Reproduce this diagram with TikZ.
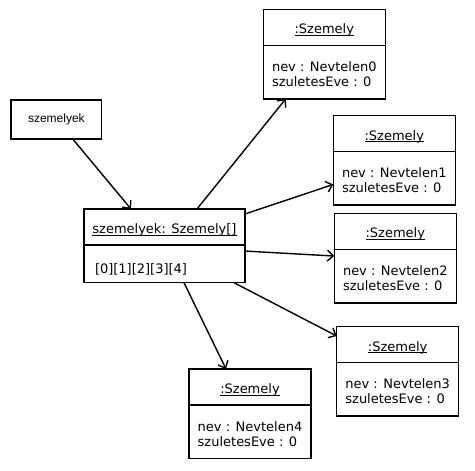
\documentclass[tikz,border=0pt]{standalone}
\usepackage{fontspec}
\setmainfont{DejaVu Sans}
\newfontfamily\reffont{Liberation Sans}
\usetikzlibrary{arrows.meta,positioning}
\newcommand\ulname[1]{\setbox0\hbox{#1}\rlap{\rule[-2pt]{\wd0}{0.9pt}}\box0}

\begin{document}
\begin{tikzpicture}[
  x=1pt,y=-1pt,
  every node/.style={font=\fontsize{13}{15}\selectfont},
  box/.style={draw,line width=1.5pt,outer sep=0pt,inner ysep=0pt},
  titlepart/.style={box,minimum width=122pt,text height=24.5pt,text depth=11.5pt},
  attrpart/.style={box,minimum width=122pt,align=left,text height=41pt,text depth=12.5pt},
  link/.style={-{Straight Barb[length=6pt,width=11pt]},line width=1.4pt}
]
  \useasboundingbox (0,0) rectangle (475,471);

  % reference variable
  \node[draw,line width=1.5pt,minimum width=90.7pt,minimum height=39pt,font=\reffont\fontsize{12}{14}\selectfont] (ref) at (56.35,119.5) {szemelyek};

  % the array object
  \node[titlepart,minimum width=161pt,anchor=north west] (arrT) at (84,209) {\ulname{szemelyek: Szemely[]}};
  \node[box,text width=139pt,inner xsep=11pt,align=left,text height=28.3pt,text depth=9.4pt,below=0pt of arrT] (arrV) {[0][1][2][3][4]};

  % Szemely objects
  \node[titlepart,anchor=north west] (o0t) at (263.3,9.3) {\ulname{:Szemely}};
  \node[attrpart,below=0pt of o0t] (o0a) {nev : Nevtelen0\\szuletesEve : 0};

  \node[titlepart,anchor=north west] (o1t) at (333.3,115.7) {\ulname{:Szemely}};
  \node[attrpart,below=0pt of o1t] (o1a) {nev : Nevtelen1\\szuletesEve : 0};

  \node[titlepart,anchor=north west] (o2t) at (334.3,213.3) {\ulname{:Szemely}};
  \node[attrpart,below=0pt of o2t] (o2a) {nev : Nevtelen2\\szuletesEve : 0};

  \node[titlepart,anchor=north west] (o3t) at (336.7,326.7) {\ulname{:Szemely}};
  \node[attrpart,below=0pt of o3t] (o3a) {nev : Nevtelen3\\szuletesEve : 0};

  \node[titlepart,anchor=north west] (o4t) at (189,369) {\ulname{:Szemely}};
  \node[attrpart,below=0pt of o4t] (o4a) {nev : Nevtelen4\\szuletesEve : 0};

  % links
  \draw[link] ([xshift=17pt]ref.south) -- ([xshift=-33.5pt]arrT.north);
  \draw[link] ([xshift=32.5pt]arrT.north) -- ([xshift=-38.5pt]o0a.south);
  \draw[link] ([yshift=-5pt]arrT.north east) -- ([yshift=-6pt]o1a.west);
  \draw[link] ([yshift=12.8pt]arrV.east) -- ([yshift=20pt]o2a.west);
  \draw[link] ([xshift=69.5pt]arrV.south) -- ([yshift=8.7pt]o3t.west);
  \draw[link] ([xshift=19.5pt]arrV.south) -- ([xshift=-24pt]o4t.north);
\end{tikzpicture}
\end{document}
